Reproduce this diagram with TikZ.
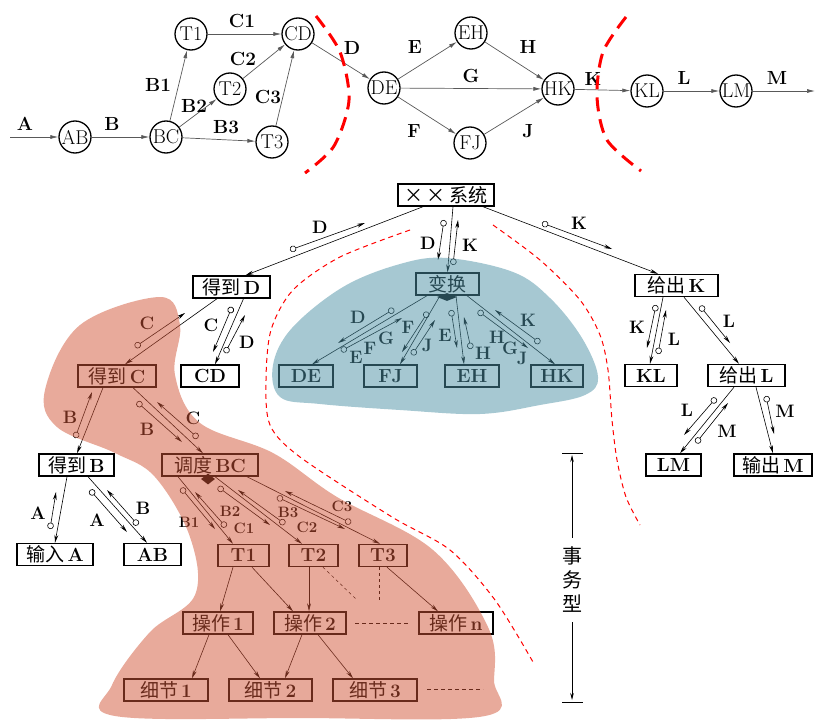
\documentclass[tikz,border=0pt]{standalone}
\usepackage{fontspec}
\newfontfamily\cjk{Noto Sans CJK SC}
\usetikzlibrary{arrows.meta,shapes.geometric}
\newcommand\zh[1]{{\cjk #1}}
\definecolor{salm}{RGB}{209,85,55}
\definecolor{tealc}{RGB}{77,145,165}
\begin{document}
\begin{tikzpicture}[x=1pt,y=-1pt,
  cn/.style={circle,draw,line width=1.3pt,minimum size=32pt,inner sep=-4pt,font=\fontsize{20}{20}\selectfont},
  tarr/.style={draw=black!65,line width=0.7pt,-{Latex[length=8pt,width=4pt]}},
  tl/.style={font=\fontsize{19}{19}\selectfont\bfseries},
  bx/.style={draw,line width=1.4pt,fill=white,inner sep=0pt,minimum height=22pt,font=\fontsize{19}{19}\selectfont},
  mainl/.style={line width=0.6pt,-{Stealth[length=8pt,width=3.8pt]}},
  cpl/.style={line width=0.6pt,{Circle[open,length=6.5pt,width=6.5pt]}-{Stealth[length=8pt,width=3.8pt]}},
  lb/.style={font=\fontsize{18}{18}\selectfont\bfseries},
  lbs/.style={font=\fontsize{15}{15}\selectfont\bfseries},
  dia/.style={diamond,fill,inner sep=0pt},
  bigred/.style={red,line width=3pt,dash pattern=on 14pt off 8pt},
  smallred/.style={red,line width=1pt,dash pattern=on 5pt off 4pt}]
\useasboundingbox (0,0) rectangle (840,720);

% ---------------- top graph ----------------
\node[cn] (AB) at (75,137) {AB};
\node[cn] (BC) at (166,137) {BC};
\node[cn] (T1c) at (191,34) {T1};
\node[cn] (T2c) at (230,89) {T2};
\node[cn] (T3c) at (272,142) {T3};
\node[cn] (CDc) at (298,34) {CD};
\node[cn] (DEc) at (384,88) {DE};
\node[cn] (EHc) at (471,33) {EH};
\node[cn] (FJc) at (470,143) {FJ};
\node[cn] (HKc) at (558,89) {HK};
\node[cn] (KLc) at (647,91) {KL};
\node[cn] (LMc) at (736,91) {LM};
\coordinate (Ain) at (10,137);
\coordinate (Mout) at (815,91);

\draw[tarr] (Ain) -- (AB);
\draw[tarr] (AB) -- (BC);
\draw[tarr] (BC) -- (T1c);
\draw[tarr] (BC) -- (T2c);
\draw[tarr] (BC) -- (T3c);
\draw[tarr] (T1c) -- (CDc);
\draw[tarr] (T2c) -- (CDc);
\draw[tarr] (T3c) -- (CDc);
\draw[tarr] (CDc) -- (DEc);
\draw[tarr] (DEc) -- (EHc);
\draw[tarr] (DEc) -- (HKc);
\draw[tarr] (DEc) -- (FJc);
\draw[tarr] (EHc) -- (HKc);
\draw[tarr] (FJc) -- (HKc);
\draw[tarr] (HKc) -- (KLc);
\draw[tarr] (KLc) -- (LMc);
\draw[tarr] (LMc) -- (Mout);

\node[tl] (tA) at (25,124) {A};
\node[tl] (tB) at (112,124) {B};
\node[tl] (tB1) at (158,85) {B1};
\node[tl] (tB2) at (194,106) {B2};
\node[tl] (tB3) at (226,127) {B3};
\node[tl] (tC1) at (242,21) {C1};
\node[tl] (tC2) at (243,59) {C2};
\node[tl] (tC3) at (268,97) {C3};
\node[tl] (tD) at (352,48) {D};
\node[tl] (tE) at (415,47) {E};
\node[tl] (tG) at (471,76) {G};
\node[tl] (tF) at (414,131) {F};
\node[tl] (tH) at (528,47) {H};
\node[tl] (tJ) at (528,131) {J};
\node[tl] (tK) at (593,79) {K};
\node[tl] (tL) at (684,78) {L};
\node[tl] (tM) at (777,78) {M};

\draw[bigred] plot[smooth] coordinates {(316,16) (340,52) (349,100) (334,146) (305,173)};
\draw[bigred] plot[smooth] coordinates {(626,17) (603,52) (597,97) (607,140) (641,171)};

% ---------------- lower tree boxes ----------------
\node[bx,minimum width=96pt] (sys) at (446,195) {\zh{×\,×\,系统}};
\node[bx,minimum width=77pt] (dD) at (231.5,287) {\zh{得到}\,\textbf{D}};
\node[bx,minimum width=63pt] (bh) at (447.5,284) {\zh{变换}};
\node[bx,minimum width=83pt] (gK) at (676.5,285.5) {\zh{给出}\,\textbf{K}};
\node[bx,minimum width=58pt] (cd) at (210,376) {\textbf{CD}};
\node[bx,minimum width=78pt] (dC) at (117,376) {\zh{得到}\,\textbf{C}};
\node[bx,minimum width=54pt] (bDE) at (306,376) {\textbf{DE}};
\node[bx,minimum width=53pt] (bFJ) at (390.5,376) {\textbf{FJ}};
\node[bx,minimum width=54pt] (bEH) at (472,376) {\textbf{EH}};
\node[bx,minimum width=52pt] (bHK) at (557,376) {\textbf{HK}};
\node[bx,minimum width=52pt] (KL) at (651,375.5) {\textbf{KL}};
\node[bx,minimum width=77pt] (gL) at (746.5,375.5) {\zh{给出}\,\textbf{L}};
\node[bx,minimum width=55pt] (LM) at (673.5,465) {\textbf{LM}};
\node[bx,minimum width=78pt] (oM) at (773,465) {\zh{输出}\,\textbf{M}};
\node[bx,minimum width=75pt] (dB) at (76.5,465) {\zh{得到}\,\textbf{B}};
\node[bx,minimum width=96pt] (dd) at (210,465) {\zh{调度}\,\textbf{BC}};
\node[bx,minimum width=76pt] (inA) at (55,554.5) {\zh{输入}\,\textbf{A}};
\node[bx,minimum width=57pt] (bAB) at (152.5,554.5) {\textbf{AB}};
\node[bx,minimum width=51pt] (T1) at (243.5,555.5) {\textbf{T1}};
\node[bx,minimum width=49pt] (T2) at (313.5,555.5) {\textbf{T2}};
\node[bx,minimum width=48pt] (T3) at (383,555.5) {\textbf{T3}};
\node[bx,minimum width=70pt] (op1) at (218,623) {\zh{操作}\,\textbf{1}};
\node[bx,minimum width=72pt] (op2) at (310,623) {\zh{操作}\,\textbf{2}};
\node[bx,minimum width=74pt] (opn) at (456,623) {\zh{操作}\,\textbf{n}};
\node[bx,minimum width=84pt] (d1) at (166,690) {\zh{细节}\,\textbf{1}};
\node[bx,minimum width=83pt] (d2) at (270.5,690) {\zh{细节}\,\textbf{2}};
\node[bx,minimum width=84pt] (d3) at (375,690) {\zh{细节}\,\textbf{3}};

\node[dia,minimum width=20pt,minimum height=8pt] (dia1) at (447,297) {};
\node[dia,minimum width=14pt,minimum height=11pt] (dia2) at (208,479) {};

% ---------------- main lines ----------------
\draw[mainl] ([xshift=-23pt]sys.south) -- ([xshift=14pt]dD.north);
\draw[mainl] ([xshift=7pt]sys.south) -- ([xshift=0pt]bh.north);
\draw[mainl] ([xshift=37pt]sys.south) -- ([xshift=-18.5pt]gK.north);
\draw[mainl] ([xshift=12pt]dD.south) -- ([xshift=5pt]cd.north);
\draw[mainl] ([xshift=-14.5pt]dD.south) -- ([xshift=8pt]dC.north);
\draw[mainl] ([xshift=-14pt]dC.south) -- ([xshift=0.5pt]dB.north);
\draw[mainl] ([xshift=16pt]dC.south) -- ([xshift=-7pt]dd.north);
\draw[mainl] ([xshift=-9.5pt]dB.south) -- ([xshift=0pt]inA.north);
\draw[mainl] ([xshift=11.5pt]dB.south) -- ([xshift=-5.5pt]bAB.north);
\draw[mainl] ([xshift=-32pt]dd.south) -- ([xshift=-10.5pt]T1.north);
\draw[mainl] ([xshift=5pt]dd.south) -- ([xshift=-11.5pt]T2.north);
\draw[mainl] ([xshift=37pt]dd.south) -- ([xshift=-3pt]T3.north);
\draw[mainl] ([xshift=-20.5pt]bh.south) -- ([xshift=6pt]bDE.north);
\draw[mainl] ([xshift=-7.5pt]bh.south) -- ([xshift=9.5pt]bFJ.north);
\draw[mainl] ([xshift=8.5pt]bh.south) -- ([xshift=-8pt]bEH.north);
\draw[mainl] ([xshift=19.5pt]bh.south) -- ([xshift=-2pt]bHK.north);
\draw[mainl] ([xshift=-13.5pt]gK.south) -- ([xshift=-1pt]KL.north);
\draw[mainl] ([xshift=7.5pt]gK.south) -- ([xshift=-7.5pt]gL.north);
\draw[mainl] ([xshift=-12.5pt]gL.south) -- ([xshift=6.5pt]LM.north);
\draw[mainl] ([xshift=9.5pt]gL.south) -- ([xshift=0pt]oM.north);
\draw[mainl] ([xshift=-10.5pt]T1.south) -- ([xshift=2pt]op1.north);
\draw[mainl] ([xshift=8.5pt]T1.south) -- ([xshift=-17pt]op2.north);
\draw[mainl] ([xshift=-4.5pt]T2.south) -- ([xshift=-1pt]op2.north);
\draw[mainl] ([xshift=4pt]T3.south) -- ([xshift=-18pt]opn.north);
\draw[mainl] ([xshift=-9pt]op1.south) -- ([xshift=26pt]d1.north);
\draw[mainl] ([xshift=10pt]op1.south) -- ([xshift=-10.5pt]d2.north);
\draw[mainl] ([xshift=-8pt]op2.south) -- ([xshift=14.5pt]d2.north);
\draw[mainl] ([xshift=8pt]op2.south) -- ([xshift=-22pt]d3.north);
\draw[line width=0.5pt,dashed] ([xshift=9.5pt]T2.south) -- (357,600);
\draw[line width=0.5pt,dashed] ([xshift=-4pt]T3.south) -- (379,602);
\draw[line width=0.5pt,dash pattern=on 4pt off 3pt] (355,623) -- (408,623);
\draw[line width=0.5pt,dash pattern=on 4pt off 3pt] (427,689) -- (483,689);

% ---------------- couples ----------------
\draw[cpl] (290,250) -- (365,223); \node[lb] at (320,227) {D};
\draw[cpl] (444,220) -- (438,260); \node[lb] at (428,243) {D};
\draw[cpl] (453,265) -- (458,220); \node[lb] at (470,245) {K};
\draw[cpl] (542,223) -- (612,249); \node[lb] at (579,223) {K};
\draw[cpl] (232,307) -- (213,352); \node[lb] at (211,325) {C};
\draw[cpl] (225,353) -- (245,315); \node[lb] at (247,342) {D};
\draw[cpl] (135,347) -- (185,313); \node[lb] at (147,323) {C};
\draw[cpl] (75,438) -- (92,392); \node[lb] at (70,417) {B};
\draw[cpl] (137,402) -- (182,442); \node[lb] at (147,429) {B};
\draw[cpl] (198,438) -- (157,402); \node[lb] at (193,418) {C};
\draw[cpl] (50,529) -- (56,492); \node[lb] at (38,513) {A};
\draw[cpl] (90,490) -- (127,532); \node[lb] at (97,520) {A};
\draw[cpl] (138,525) -- (107,490); \node[lb] at (143,508) {B};
\draw[cpl] (181,488) -- (215,529); \node[lbs] at (189,522) {B1};
\draw[cpl] (226,527) -- (195,492); \node[lbs] at (244,528) {C1};
\draw[cpl] (218,487) -- (270,525); \node[lbs] at (230,511) {B2};
\draw[cpl] (285,524) -- (238,490); \node[lbs] at (307,527) {C2};
\draw[cpl] (277,497) -- (345,529); \node[lbs] at (288,512) {B3};
\draw[cpl] (351,523) -- (285,491); \node[lbs] at (342,506) {C3};
\draw[cpl] (394,309) -- (338,343); \node[lb] at (358,317) {D};
\draw[cpl] (341,351) -- (402,318);
\node[lb] at (356,357) {E}; \node[lb] at (370,348) {F}; \node[lb] at (386,338) {G};
\draw[cpl] (428,312) -- (402,352); \node[lb] at (408,327) {F};
\draw[cpl] (412,355) -- (435,320); \node[lb] at (427,345) {J};
\draw[cpl] (451,310) -- (457,348); \node[lb] at (445,335) {E};
\draw[cpl] (471,349) -- (464,317); \node[lb] at (483,353) {H};
\draw[cpl] (478,311) -- (528,348);
\node[lb] at (497,337) {H}; \node[lb] at (510,348) {G}; \node[lb] at (522,358) {J};
\draw[cpl] (540,343) -- (495,310); \node[lb] at (528,320) {K};
\draw[cpl] (656,305) -- (647,348); \node[lb] at (637,327) {K};
\draw[cpl] (658,354) -- (666,310); \node[lb] at (674,339) {L};
\draw[cpl] (700,306) -- (730,343); \node[lb] at (729,321) {L};
\draw[cpl] (716,398) -- (684,435); \node[lb] at (687,410) {L};
\draw[cpl] (696,443) -- (728,403); \node[lb] at (727,431) {M};
\draw[cpl] (766,396) -- (774,434); \node[lb] at (785,411) {M};

% ---------------- red dashed boundaries ----------------
\draw[smallred] plot[smooth] coordinates {(410,230) (340,257) (293,290) (271,330) (266,380) (270,425) (300,457) (392,517) (450,550) (495,600) (533,662)};
\draw[smallred] plot[smooth] coordinates {(493,225) (540,260) (580,300) (600,335) (608,370) (612,420) (617,460) (626,497) (640,525)};

% ---------------- time axis ----------------
\draw[line width=0.6pt] (562,453) -- (583,453);
\draw[line width=0.6pt] (562,702) -- (583,702);
\node[font=\cjk\fontsize{20}{24}\selectfont,align=center] (sw) at (572,580) {事\\务\\型};
\draw[line width=0.6pt,-{Stealth[length=7pt,width=3.5pt]}] (sw.north) ++(0,-6) -- (572,455);
\draw[line width=0.6pt,-{Stealth[length=7pt,width=3.5pt]}] (sw.south) ++(0,6) -- (572,700);

% ---------------- translucent regions ----------------
\fill[salm,fill opacity=0.5] plot[smooth cycle,tension=0.6] coordinates {(160,297) (180,325) (175,375) (200,423) (273,453) (337,497) (433,550) (488,627) (494,680) (485,716) (300,718) (115,716) (112,685) (150,632) (195,595) (190,537) (155,477) (115,453) (57,427) (45,390) (80,325)};
\fill[tealc,fill opacity=0.5] plot[smooth cycle,tension=0.6] coordinates {(447,258) (513,272) (550,298) (582,338) (598,377) (585,395) (540,405) (480,414) (400,410) (320,404) (280,397) (273,365) (292,328) (343,287) (400,264)};
\end{tikzpicture}
\end{document}
